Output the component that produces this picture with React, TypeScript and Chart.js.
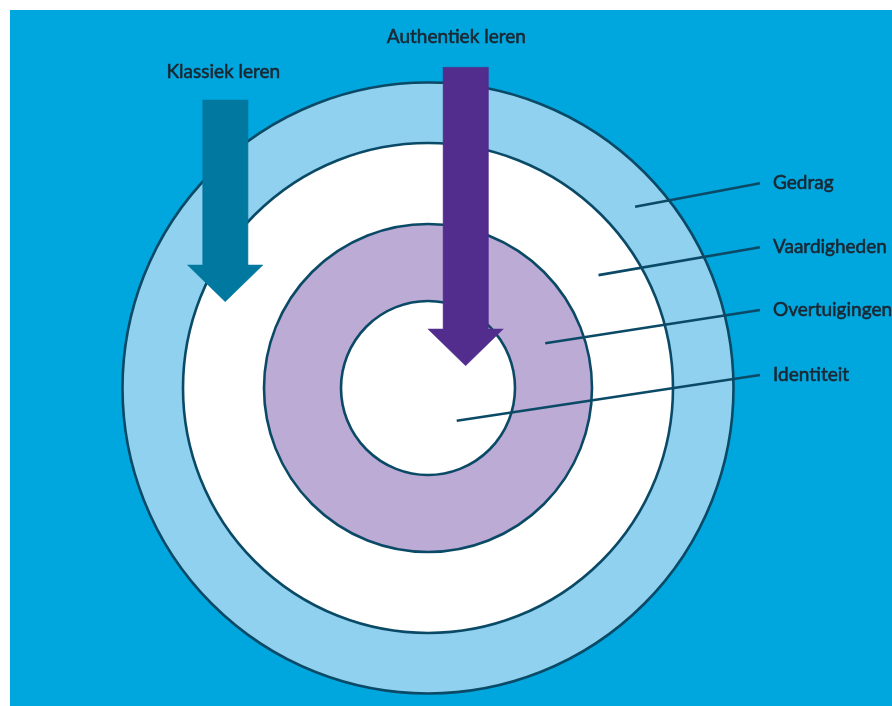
import React, { useEffect, useRef } from "react";
import { Chart, registerables } from "chart.js";

Chart.register(...registerables);

// ---- Data (diagram units, origin = centre of the rings, y up) ----
const layers = ["Gedrag", "Vaardigheden", "Overtuigingen", "Identiteit"];
const layerOuterRadius = [305.5, 245, 164, 87];
const leaderAngleDeg = [41.2, 33.5, 20.9, -48.7];
const labelAnchorY = [204.7, 140.7, 78, 13];
const labelAnchorX = 332;

const approaches = ["Klassiek leren", "Authentiek leren"];
const arrowCenterX = [-202.8, 37.6];
const arrowTopY = [288, 320.7];
const arrowTipY = [86.3, 22.3];
const approachTitleX = [-204.7, 28.3];
const approachTitleY = [309.7, 344.7];

// ---- Styles ----
const W = 892;
const H = 706;
const X_MIN = -428;
const X_MAX = 464;
const Y_MIN = -318;
const Y_MAX = 388;
const PANEL_INSET = 10;
const BG_BLUE = "#00a6de";
const STROKE = "#0b4a66";
const TEXT = "#1b2731";
const layerFill = ["#8fd1ee", "#ffffff", "#bcabd5", "#ffffff"];
const arrowColors = ["#00789f", "#532d8e"];
const SHAFT_W = 45;
const HEAD_W = 75.4;
const HEAD_L = 36.7;
const FONT = "19px Lato, 'Liberation Sans', sans-serif";

function arrowPolygon(cx: number, top: number, tip: number) {
  const hs = SHAFT_W / 2;
  const hh = HEAD_W / 2;
  const base = tip + HEAD_L;
  return [
    { x: cx - hs, y: top },
    { x: cx + hs, y: top },
    { x: cx + hs, y: base },
    { x: cx + hh, y: base },
    { x: cx, y: tip },
    { x: cx - hh, y: base },
    { x: cx - hs, y: base },
    { x: cx - hs, y: top },
  ];
}

const backgroundPlugin = {
  id: "panelBackground",
  beforeDraw(chart: any) {
    const { ctx, width, height } = chart;
    ctx.save();
    ctx.fillStyle = "#ffffff";
    ctx.fillRect(0, 0, width, height);
    ctx.fillStyle = BG_BLUE;
    ctx.fillRect(PANEL_INSET, PANEL_INSET, width - PANEL_INSET, height - PANEL_INSET);
    ctx.restore();
  },
};

function drawLabel(ctx: CanvasRenderingContext2D, text: string, x: number, y: number) {
  ctx.fillText(text, x, y);
  ctx.strokeText(text, x, y);
}

const textPlugin = {
  id: "diagramText",
  afterDatasetsDraw(chart: any) {
    const { ctx } = chart;
    const xs = chart.scales.x;
    const ys = chart.scales.y;
    ctx.save();
    ctx.fillStyle = TEXT;
    ctx.strokeStyle = TEXT;
    ctx.lineWidth = 0.55;
    ctx.lineJoin = "round";
    ctx.font = FONT;
    ctx.textBaseline = "alphabetic";
    ctx.textAlign = "left";
    layers.forEach((name, i) => {
      const px = xs.getPixelForValue(labelAnchorX) + 13;
      const py = ys.getPixelForValue(labelAnchorY[i]) + 6;
      drawLabel(ctx, name, px, py);
    });
    ctx.textAlign = "center";
    approaches.forEach((name, i) => {
      drawLabel(ctx, name, xs.getPixelForValue(approachTitleX[i]), ys.getPixelForValue(approachTitleY[i]));
    });
    ctx.restore();
  },
};

export default function App() {
  const ref = useRef<HTMLCanvasElement | null>(null);

  useEffect(() => {
    if (!ref.current) return;

    const arrowDatasets = approaches.map((name, i) => ({
      label: name,
      data: arrowPolygon(arrowCenterX[i], arrowTopY[i], arrowTipY[i]),
      showLine: true,
      fill: "shape",
      backgroundColor: arrowColors[i],
      borderColor: arrowColors[i],
      borderWidth: 0.5,
      pointRadius: 0,
      tension: 0,
    }));

    const leaderDatasets = layers.map((name, i) => {
      const inner = i + 1 < layerOuterRadius.length ? layerOuterRadius[i + 1] : 0;
      const rMid = (layerOuterRadius[i] + inner) / 2;
      const a = (leaderAngleDeg[i] * Math.PI) / 180;
      return {
        label: name,
        data: [
          { x: rMid * Math.cos(a), y: rMid * Math.sin(a) },
          { x: labelAnchorX, y: labelAnchorY[i] },
        ],
        showLine: true,
        fill: false,
        borderColor: STROKE,
        borderWidth: 2.6,
        pointRadius: 0,
        tension: 0,
      };
    });

    const ringRadiusPx = (c: any) => {
      const s = c.chart.scales.x;
      return s.getPixelForValue(layerOuterRadius[c.dataIndex]) - s.getPixelForValue(0);
    };

    const ringDataset = {
      label: "Lagen",
      data: layers.map(() => ({ x: 0, y: 0 })),
      showLine: false,
      pointStyle: "circle",
      pointRadius: ringRadiusPx,
      pointHoverRadius: ringRadiusPx,
      pointBackgroundColor: layerFill,
      pointBorderColor: STROKE,
      pointBorderWidth: 2.6,
    };

    const chart = new Chart(ref.current, {
      type: "scatter",
      data: { datasets: [...arrowDatasets, ...leaderDatasets, ringDataset] as any },
      options: {
        animation: false,
        responsive: false,
        maintainAspectRatio: false,
        events: [],
        layout: { padding: 0 },
        plugins: {
          legend: { display: false },
          tooltip: { enabled: false },
          title: { display: false },
        },
        scales: {
          x: { type: "linear", min: X_MIN, max: X_MAX, display: false },
          y: { type: "linear", min: Y_MIN, max: Y_MAX, display: false },
        },
      } as any,
      plugins: [backgroundPlugin, textPlugin],
    });

    return () => chart.destroy();
  }, []);

  return (
    <div style={{ position: "fixed", left: 0, top: 0, width: W, height: H }}>
      <canvas ref={ref} width={W} height={H} style={{ display: "block", width: W, height: H }} />
    </div>
  );
}
